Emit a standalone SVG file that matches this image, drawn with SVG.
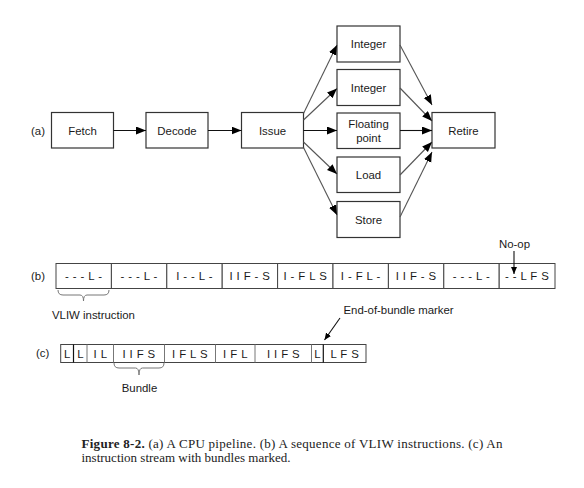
<svg xmlns="http://www.w3.org/2000/svg" width="584" height="488" viewBox="0 0 584 488">
  <style>
    .box { fill: #fff; stroke: #333; stroke-width: 1.2; }
    .cell { fill: #fff; stroke: #444; stroke-width: 1; }
    .lbl { font-family: "Liberation Sans", Arial, sans-serif; font-size: 11.4px; fill: #1a1a1a; text-anchor: middle; }
    .tag { font-family: "Liberation Sans", Arial, sans-serif; font-size: 11.4px; fill: #1a1a1a; }
    .op { font-family: "Liberation Sans", Arial, sans-serif; font-size: 11.4px; fill: #1a1a1a; text-anchor: middle; letter-spacing: 0.4px; }
    .conn { stroke: #111; stroke-width: 1.1; fill: none; }
    .fan { stroke: #555; stroke-width: 1.1; fill: none; }
    .brace { stroke: #777; stroke-width: 1; fill: none; }
    .cap { font-family: "Liberation Serif", "Times New Roman", serif; font-size: 13px; fill: #222; }
  </style>
  <defs>
    <marker id="ah" markerUnits="userSpaceOnUse" markerWidth="11" markerHeight="9" refX="10" refY="4" orient="auto">
      <path d="M0,0 L10,4 L0,8 z" fill="#000"/>
    </marker>
    <marker id="ahs" markerUnits="userSpaceOnUse" markerWidth="8" markerHeight="7" refX="7" refY="3" orient="auto">
      <path d="M0,0 L7,3 L0,6 z" fill="#000"/>
    </marker>
  </defs>

  <!-- (a) pipeline -->
  <text class="tag" x="31" y="135">(a)</text>

  <g id="fetch"><rect class="box" x="51.5" y="112.5" width="62" height="35.5"/><text class="lbl" x="82.5" y="134.5">Fetch</text></g>
  <g id="decode"><rect class="box" x="146" y="112.5" width="62" height="35.5"/><text class="lbl" x="177" y="134.5">Decode</text></g>
  <g id="issue"><rect class="box" x="241.5" y="112.5" width="62" height="35.5"/><text class="lbl" x="272.5" y="134.5">Issue</text></g>
  <g id="integer1"><rect class="box" x="337" y="26" width="63" height="36"/><text class="lbl" x="368.5" y="48">Integer</text></g>
  <g id="integer2"><rect class="box" x="337" y="69.5" width="63" height="36"/><text class="lbl" x="368.5" y="91.5">Integer</text></g>
  <g id="floating"><rect class="box" x="337" y="113" width="63" height="35.5"/><text class="lbl" x="368.5" y="128">Floating</text><text class="lbl" x="368.5" y="142">point</text></g>
  <g id="load"><rect class="box" x="337" y="157" width="63" height="35.5"/><text class="lbl" x="368.5" y="179">Load</text></g>
  <g id="store"><rect class="box" x="337" y="201.5" width="63" height="36"/><text class="lbl" x="368.5" y="223.5">Store</text></g>
  <g id="retire"><rect class="box" x="432" y="112.5" width="63" height="35.5"/><text class="lbl" x="463.5" y="134.5">Retire</text></g>

  <g id="connectors">
    <line class="conn" x1="113.5" y1="130.5" x2="146" y2="130.5" marker-end="url(#ah)"/>
    <line class="conn" x1="208" y1="130.5" x2="241.5" y2="130.5" marker-end="url(#ah)"/>
    <!-- Issue fan-out -->
    <line class="fan" x1="303.5" y1="113.5" x2="337" y2="45" marker-end="url(#ah)"/>
    <line class="fan" x1="303.5" y1="120" x2="337" y2="88.5" marker-end="url(#ah)"/>
    <line class="conn" x1="303.5" y1="130.5" x2="337" y2="130.5" marker-end="url(#ah)"/>
    <line class="fan" x1="303.5" y1="142" x2="337" y2="174" marker-end="url(#ah)"/>
    <line class="fan" x1="303.5" y1="147.5" x2="337" y2="215" marker-end="url(#ah)"/>
    <!-- fan-in to Retire -->
    <line class="fan" x1="400" y1="45" x2="432" y2="105" marker-end="url(#ah)"/>
    <line class="fan" x1="400" y1="88" x2="432" y2="121" marker-end="url(#ah)"/>
    <line class="conn" x1="400" y1="130.5" x2="432" y2="130.5" marker-end="url(#ah)"/>
    <line class="fan" x1="400" y1="175" x2="432" y2="142" marker-end="url(#ah)"/>
    <line class="fan" x1="400" y1="217" x2="432" y2="152" marker-end="url(#ah)"/>
  </g>

  <!-- (b) VLIW instruction sequence -->
  <text class="tag" x="31" y="280">(b)</text>
  <g id="vliw-row">
    <rect class="cell" x="56" y="263.5" width="55.4" height="25"/>
    <rect class="cell" x="111.4" y="263.5" width="55.4" height="25"/>
    <rect class="cell" x="166.8" y="263.5" width="55.4" height="25"/>
    <rect class="cell" x="222.2" y="263.5" width="55.4" height="25"/>
    <rect class="cell" x="277.6" y="263.5" width="55.4" height="25"/>
    <rect class="cell" x="333" y="263.5" width="55.4" height="25"/>
    <rect class="cell" x="388.4" y="263.5" width="55.4" height="25"/>
    <rect class="cell" x="443.8" y="263.5" width="55.4" height="25"/>
    <rect class="cell" x="499.2" y="263.5" width="55.8" height="25" stroke="#888"/>
    <text class="op" x="83.7" y="280">- - - L -</text>
    <text class="op" x="139.1" y="280">- - - L -</text>
    <text class="op" x="194.5" y="280">I - - L -</text>
    <text class="op" x="249.9" y="280">I I F - S</text>
    <text class="op" x="305.3" y="280">I - F L S</text>
    <text class="op" x="360.7" y="280">I - F L -</text>
    <text class="op" x="416.1" y="280">I I F - S</text>
    <text class="op" x="471.5" y="280">- - - L -</text>
    <text class="op" x="527.1" y="280">- - L F S</text>
  </g>
  <path class="brace" d="M58,290 Q58,295 63,295 L80,295 Q83.5,295 83.5,301 Q83.5,295 87,295 L104,295 Q109,295 109,290"/>
  <text class="tag" x="52" y="319">VLIW instruction</text>
  <text class="tag" x="499" y="248">No-op</text>
  <line class="conn" x1="514" y1="251" x2="514" y2="274" marker-end="url(#ahs)"/>

  <!-- (c) bundled instruction stream -->
  <text class="tag" x="36" y="357">(c)</text>
  <g id="bundle-row">
    <rect class="cell" x="60.7" y="344.5" width="305.3" height="18" stroke="#777"/>
    <line x1="73.5" y1="344.5" x2="73.5" y2="362.5" stroke="#111" stroke-width="1.2"/>
    <line x1="87" y1="344.5" x2="87" y2="362.5" stroke="#777"/>
    <line x1="113.5" y1="344.5" x2="113.5" y2="362.5" stroke="#777"/>
    <line x1="164.5" y1="344.5" x2="164.5" y2="362.5" stroke="#777"/>
    <line x1="215.5" y1="344.5" x2="215.5" y2="362.5" stroke="#777"/>
    <line x1="255" y1="344.5" x2="255" y2="362.5" stroke="#777"/>
    <line x1="311.5" y1="344.5" x2="311.5" y2="362.5" stroke="#777"/>
    <line x1="323.3" y1="344.5" x2="323.3" y2="362.5" stroke="#111" stroke-width="1.2"/>
    <text class="op" x="67.3" y="357.5">L</text>
    <text class="op" x="80.5" y="357.5">L</text>
    <text class="op" x="100.5" y="357.5">I L</text>
    <text class="op" x="139" y="357.5">I I F S</text>
    <text class="op" x="190" y="357.5">I F L S</text>
    <text class="op" x="235.5" y="357.5">I F L</text>
    <text class="op" x="283.5" y="357.5">I I F S</text>
    <text class="op" x="317.5" y="357.5">L</text>
    <text class="op" x="344.8" y="357.5">L F S</text>
  </g>
  <path class="brace" d="M114,363 Q114,368 119,368 L135.5,368 Q139,368 139,375 Q139,368 142.5,368 L159,368 Q164,368 164,363"/>
  <text class="lbl" x="139.5" y="392">Bundle</text>
  <text class="tag" x="343.5" y="314">End-of-bundle marker</text>
  <line class="conn" x1="340" y1="318" x2="324.5" y2="340" marker-end="url(#ahs)"/>

  <!-- caption -->
  <text class="cap" x="81.5" y="447.5" textLength="421" lengthAdjust="spacing"><tspan font-weight="bold">Figure 8-2.</tspan> (a) A CPU pipeline. (b) A sequence of VLIW instructions. (c) An</text>
  <text class="cap" x="81.5" y="461.5">instruction stream with bundles marked.</text>
</svg>
